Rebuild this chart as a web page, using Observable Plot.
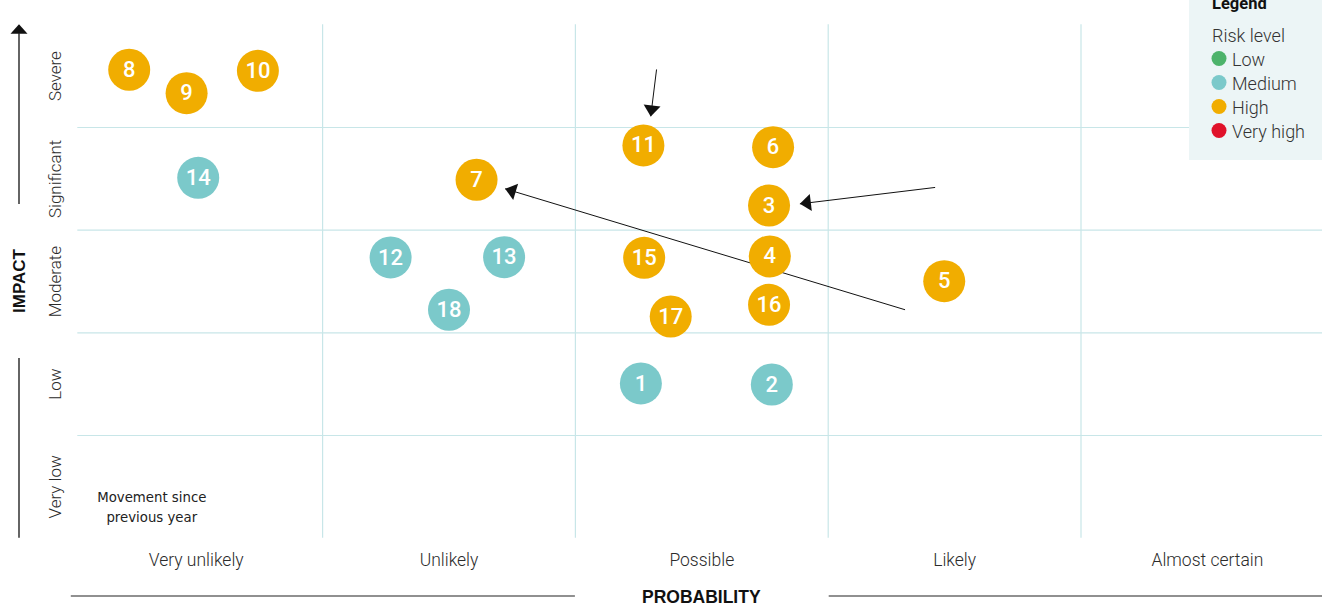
<!DOCTYPE html>
<html>
<head>
<meta charset="utf-8">
<script src="https://cdn.jsdelivr.net/npm/d3@7"></script>
<script src="https://cdn.jsdelivr.net/npm/@observablehq/plot@0.6"></script>
<style>
  body { margin: 0; background: #fff; }
  #wrap { position: relative; width: 1322px; height: 605px; overflow: hidden; }
  #legend { position: absolute; }
</style>
</head>
<body>
<div id="wrap"></div>
<script>
// Axis categories
const probabilityLabels = ["Very unlikely", "Unlikely", "Possible", "Likely", "Almost certain"];
const impactLabels = ["Very low", "Low", "Moderate", "Significant", "Severe"];

// Risks (probability / impact in category units, 0..5)
const riskIds         = [1, 2, 3, 4, 5, 6, 7, 8, 9, 10, 11, 12, 13, 14, 15, 16, 17, 18];
const riskProbability = [2.259, 2.777, 2.766, 2.769, 3.459, 2.782, 1.609, 0.235, 0.462, 0.744, 2.269, 1.269, 1.718, 0.508, 2.272, 2.766, 2.377, 1.500];
const riskImpact      = [1.507, 1.497, 3.240, 2.744, 2.503, 3.808, 3.491, 4.562, 4.334, 4.552, 3.825, 2.734, 2.737, 3.510, 2.731, 2.273, 2.159, 2.225];
const riskLevel       = ["Medium", "Medium", "High", "High", "High", "High", "High", "High", "High", "High", "High", "Medium", "Medium", "Medium", "High", "High", "High", "Medium"];

// Risk level legend
const levelNames  = ["Low", "Medium", "High", "Very high"];
const levelColors = ["#4DB36B", "#7BC9CA", "#F1AD00", "#E0122A"];

// Movement since previous year (arrows)
const moveFromProb   = [2.321, 3.423, 3.304];
const moveFromImpact = [4.565, 3.416, 2.225];
const moveToProb     = [2.298, 2.888, 1.722];
const moveToImpact   = [4.108, 3.256, 3.403];

const risks = riskIds.map((id, i) => ({id, p: riskProbability[i], imp: riskImpact[i], level: riskLevel[i]}));
const moves = moveFromProb.map((d, i) => ({x1: d, y1: moveFromImpact[i], x2: moveToProb[i], y2: moveToImpact[i]}));

const W = 1322, H = 605;
const gridColor = "#C8E6E8";
const labelColor = "#2b2b2b";

const plot = Plot.plot({
  width: W,
  height: H,
  marginLeft: 69.3,
  marginRight: 0,
  marginTop: 24.3,
  marginBottom: 67.3,
  style: {fontFamily: "Roboto, sans-serif", background: "transparent", overflow: "hidden"},
  x: {domain: [0, 5], range: [69.3, 1333.3], axis: null},
  y: {domain: [0, 5], axis: null},
  color: {domain: levelNames, range: levelColors},
  marks: [
    Plot.ruleX([1, 2, 3, 4], {stroke: gridColor, strokeWidth: 1.2}),
    Plot.ruleY([1, 2, 3, 4], {stroke: gridColor, strokeWidth: 1.2, insetLeft: 8}),
    Plot.text(probabilityLabels, {
      x: (d, i) => i + 0.5, frameAnchor: "bottom", lineAnchor: "middle", textAnchor: "middle",
      dy: 22.5, text: d => d, fontSize: 17.5, fontWeight: 300, fill: labelColor
    }),
    Plot.text(impactLabels, {
      y: (d, i) => i + 0.5, frameAnchor: "left", lineAnchor: "middle", textAnchor: "middle",
      dx: -14.3, rotate: -90, text: d => d, fontSize: 17, fontWeight: 300, fill: labelColor
    }),
    Plot.link(moves, {x1: "x1", y1: "y1", x2: "x2", y2: "y2", stroke: "#111", strokeWidth: 1, markerEnd: "arrow"}),
    Plot.dot(risks, {x: "p", y: "imp", r: 21, fill: "level"}),
    Plot.text(risks, {x: "p", y: "imp", text: "id", fill: "white", fontSize: 22, fontWeight: 500}),
    Plot.text(["Movement since\nprevious year"], {
      frameAnchor: "bottom-left", textAnchor: "middle", lineAnchor: "middle",
      dx: 82, dy: -32.6, lineHeight: 1.54, fontSize: 13.3, fontFamily: "DejaVu Sans", fill: "#222"
    })
  ]
});

document.getElementById("wrap").appendChild(plot);

const svg = d3.select(plot);
const xs = plot.scale("x"), ys = plot.scale("y");

// filled triangular arrowheads
svg.selectAll("marker")
  .attr("viewBox", "-12 -9 12 18")
  .attr("markerWidth", 12)
  .attr("markerHeight", 18)
  .attr("markerUnits", "userSpaceOnUse")
  .attr("fill", "#111")
  .attr("stroke", "none")
  .selectAll("path")
  .attr("d", "M-11,-8.5L0,0L-11,8.5Z");

// IMPACT axis decoration
const deco = svg.append("g");
const ax = 19;
const yTop = ys.apply(5), yBot = ys.apply(0), yMid = ys.apply(2.5);
deco.append("path")
  .attr("d", `M${ax},${yTop}L${ax - 8.5},${yTop + 9.5}L${ax + 8.5},${yTop + 9.5}Z`)
  .attr("fill", "#111");
deco.append("line").attr("x1", ax).attr("x2", ax).attr("y1", yTop + 9).attr("y2", yMid - 77)
  .attr("stroke", "#111").attr("stroke-width", 1.3);
deco.append("line").attr("x1", ax).attr("x2", ax).attr("y1", yMid + 77).attr("y2", yBot)
  .attr("stroke", "#111").attr("stroke-width", 1.3);
deco.append("text")
  .attr("transform", `translate(${ax + 6},${yMid}) rotate(-90)`)
  .attr("text-anchor", "middle")
  .attr("font-family", "'Liberation Sans', Arial, sans-serif")
  .attr("font-weight", 700)
  .attr("font-size", 17)
  .attr("fill", "#111")
  .text("IMPACT");

// PROBABILITY axis decoration
const yb = 596;
deco.append("line").attr("x1", xs.apply(0) + 1.5).attr("x2", xs.apply(2)).attr("y1", yb).attr("y2", yb)
  .attr("stroke", "#6b6b6b").attr("stroke-width", 1.6);
deco.append("line").attr("x1", xs.apply(3) + 1).attr("x2", xs.apply(5)).attr("y1", yb).attr("y2", yb)
  .attr("stroke", "#6b6b6b").attr("stroke-width", 1.6);
deco.append("text")
  .attr("x", xs.apply(2.5)).attr("y", 603)
  .attr("text-anchor", "middle")
  .attr("font-family", "'Liberation Sans', Arial, sans-serif")
  .attr("font-weight", 700)
  .attr("font-size", 17.5)
  .attr("fill", "#111")
  .text("PROBABILITY");

// Legend overlay
const leg = d3.select("#wrap").append("svg")
  .attr("id", "legend")
  .attr("width", 140).attr("height", 160)
  .style("left", "1189px").style("top", "0px");
leg.append("rect").attr("width", 140).attr("height", 160).attr("fill", "#ECF5F6");
leg.append("text").attr("x", 23).attr("y", 9)
  .attr("font-family", "Roboto, sans-serif").attr("font-weight", 700).attr("font-size", 16.5)
  .attr("fill", "#111").text("Legend");
leg.append("text").attr("x", 23).attr("y", 42)
  .attr("font-family", "Roboto, sans-serif").attr("font-weight", 300).attr("font-size", 18)
  .attr("fill", "#333").text("Risk level");
levelNames.forEach((n, i) => {
  leg.append("circle").attr("cx", 30).attr("cy", 58.5 + 24 * i).attr("r", 7.5).attr("fill", levelColors[i]);
  leg.append("text").attr("x", 43).attr("y", 65.5 + 24 * i)
    .attr("font-family", "Roboto, sans-serif").attr("font-weight", 300).attr("font-size", 18)
    .attr("fill", "#333").text(n);
});
</script>
</body>
</html>
